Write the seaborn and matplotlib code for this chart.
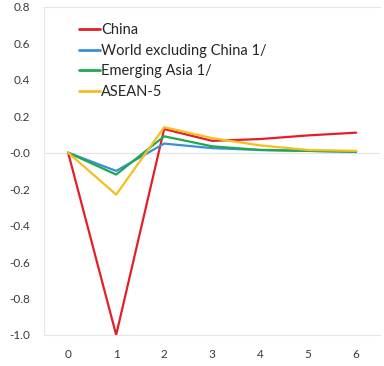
import numpy as np
import pandas as pd
import matplotlib
matplotlib.use("Agg")
import matplotlib.pyplot as plt
import seaborn as sns

# data
quarters = [0, 1, 2, 3, 4, 5, 6]
china = [0.0, -1.0, 0.13, 0.065, 0.075, 0.095, 0.11]
world_ex_china = [0.0, -0.10, 0.05, 0.025, 0.015, 0.01, 0.005]
emerging_asia = [0.0, -0.12, 0.09, 0.035, 0.015, 0.01, 0.005]
asean5 = [0.0, -0.23, 0.14, 0.08, 0.04, 0.015, 0.01]

names = ["China", "World excluding China 1/", "Emerging Asia 1/", "ASEAN-5"]
colors = ["#e51e25", "#3a8fd6", "#1fa84f", "#f5bf1f"]

df = pd.DataFrame({
    "quarter": quarters * 4,
    "value": china + world_ex_china + emerging_asia + asean5,
    "series": sum([[n] * len(quarters) for n in names], []),
})

sns.set_style("white")
plt.rcParams["font.family"] = ["Lato", "DejaVu Sans"]

fig = plt.figure(figsize=(3.84, 3.66), dpi=100)
ax = fig.add_axes([0.115, 0.085, 0.875, 0.896])

sns.lineplot(data=df, x="quarter", y="value", hue="series", hue_order=names,
             palette=colors, linewidth=1.6, ax=ax)

ax.set_xlim(-0.5, 6.5)
ax.set_ylim(-1.0, 0.8)
ax.set_yticks(np.arange(-1.0, 0.81, 0.2))
ax.set_yticklabels([f"{v:.1f}" for v in np.arange(-1.0, 0.81, 0.2)])
ax.set_xticks(quarters)
ax.axhline(0, color="#e3e3e3", lw=0.8, zorder=0)
ax.set_xlabel("")
ax.set_ylabel("")
ax.tick_params(labelsize=8.5, colors="#3a3a3a", length=0, pad=10)
ax.spines["right"].set_visible(False)
for s in ["left", "bottom", "top"]:
    ax.spines[s].set_color("#e6e6e6")
    ax.spines[s].set_linewidth(0.8)

leg = ax.legend(loc="upper left", frameon=False, fontsize=10.5,
                handlelength=1.4, handletextpad=0.1, labelspacing=0.45,
                bbox_to_anchor=(0.065, 0.99))
for h in leg.get_lines():
    h.set_linewidth(2)

fig.savefig("out.png", dpi=100)
